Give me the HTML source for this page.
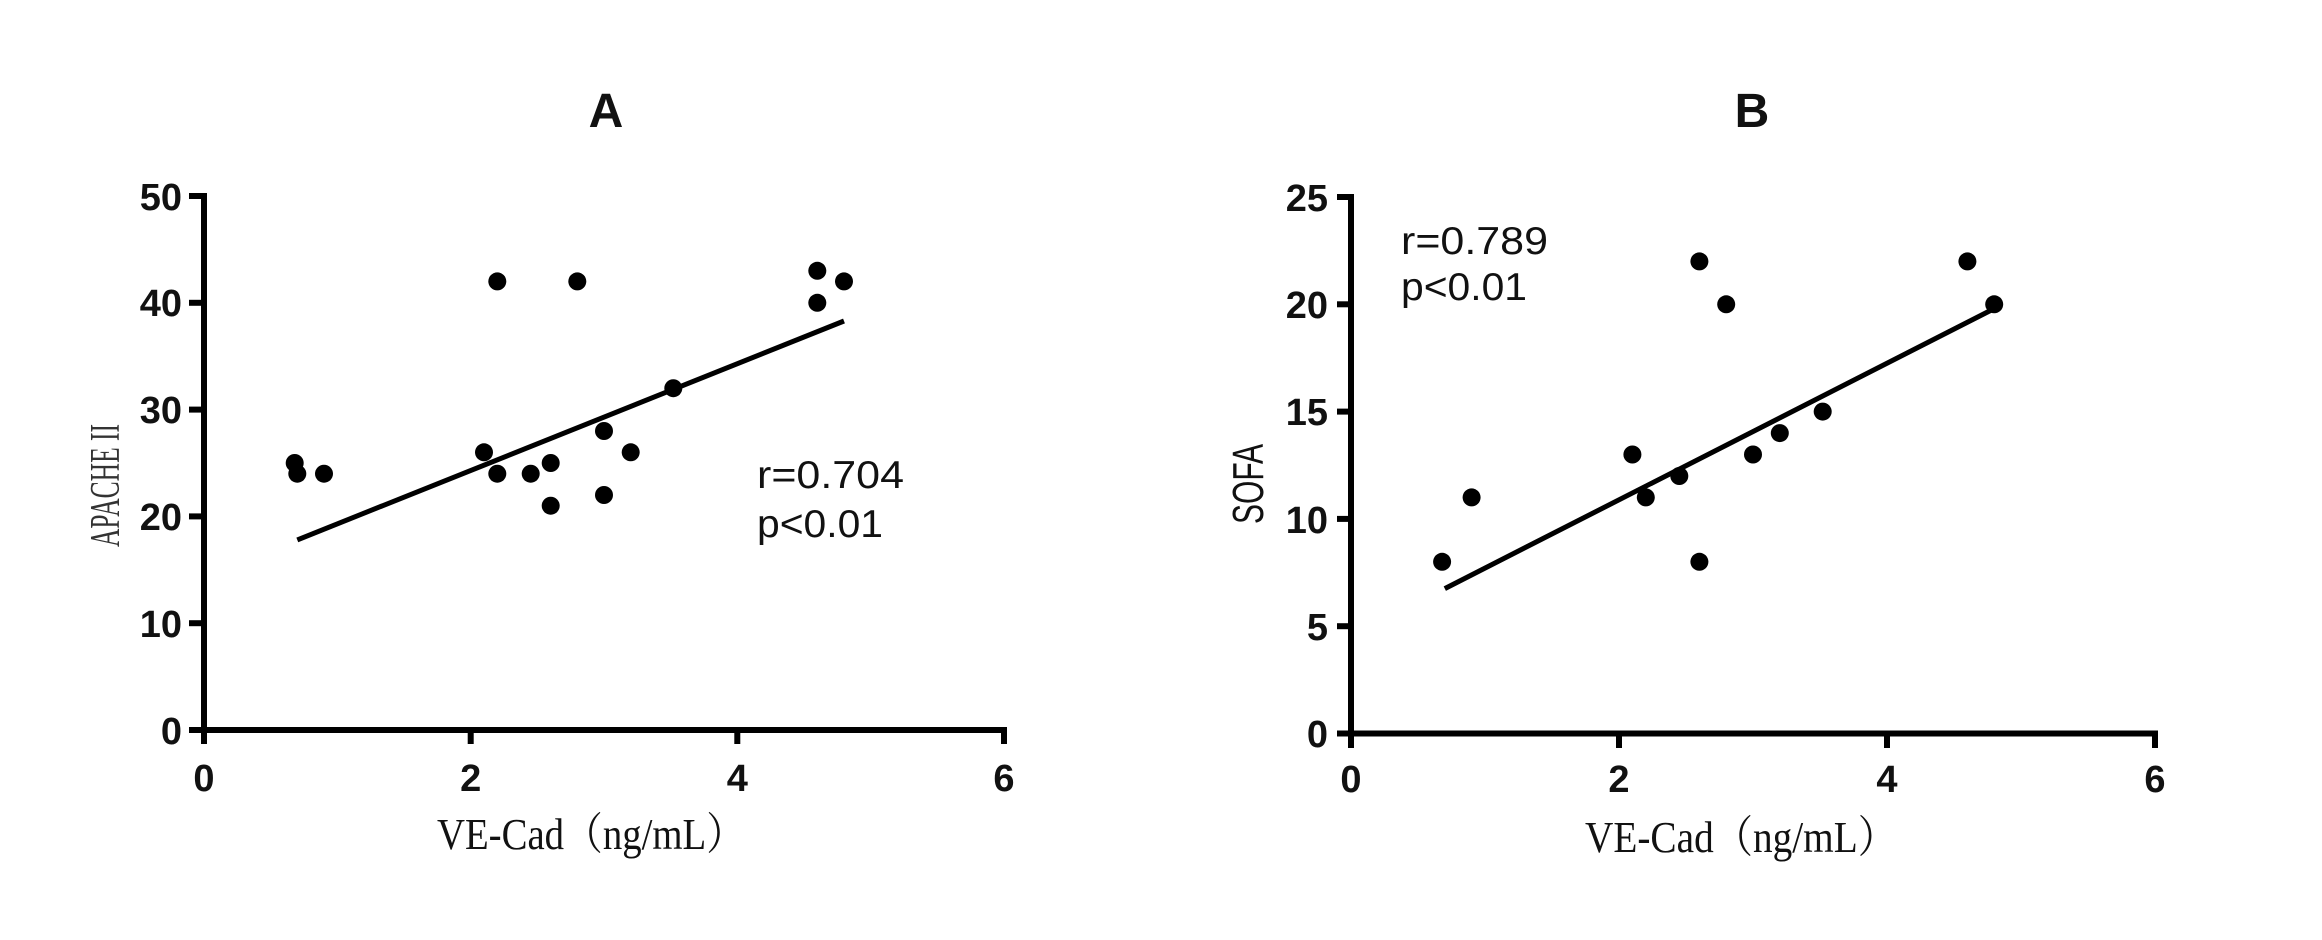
<!DOCTYPE html>
<html>
<head>
<meta charset="utf-8">
<style>
html,body{margin:0;padding:0;background:#fff;}
svg{display:block;}
.tk{font-family:"Liberation Sans",Arial,sans-serif;font-weight:bold;font-size:38px;fill:#111;}
.st{font-family:"Liberation Sans",Arial,sans-serif;font-size:39px;fill:#111;}
.ti{font-family:"Liberation Sans",Arial,sans-serif;font-weight:bold;font-size:48px;fill:#111;}
.xl{font-family:"Liberation Serif","Noto Serif CJK SC",serif;font-size:44px;fill:#111;}
</style>
</head>
<body>
<svg width="2322" height="940" viewBox="0 0 2322 940" xmlns="http://www.w3.org/2000/svg">
<rect width="2322" height="940" fill="#fff"/>

<!-- ================= Panel A ================= -->
<text class="ti" x="606" y="127" text-anchor="middle">A</text>
<g stroke="#000" stroke-width="6" fill="none" stroke-linecap="butt">
  <line x1="204" y1="193" x2="204" y2="733"/>
  <line x1="201" y1="730" x2="1007" y2="730"/>
  <line x1="189" y1="730" x2="204" y2="730"/>
  <line x1="189" y1="623.2" x2="204" y2="623.2"/>
  <line x1="189" y1="516.4" x2="204" y2="516.4"/>
  <line x1="189" y1="409.6" x2="204" y2="409.6"/>
  <line x1="189" y1="302.8" x2="204" y2="302.8"/>
  <line x1="189" y1="196" x2="204" y2="196"/>
  <line x1="204" y1="730" x2="204" y2="744"/>
  <line x1="470.7" y1="730" x2="470.7" y2="744"/>
  <line x1="737.3" y1="730" x2="737.3" y2="744"/>
  <line x1="1004" y1="730" x2="1004" y2="744"/>
</g>
<g class="tk" text-anchor="end">
  <text x="182" y="744">0</text>
  <text x="182" y="637">10</text>
  <text x="182" y="530">20</text>
  <text x="182" y="423">30</text>
  <text x="182" y="316">40</text>
  <text x="182" y="210">50</text>
</g>
<g class="tk" text-anchor="middle">
  <text x="204" y="791">0</text>
  <text x="470.7" y="791">2</text>
  <text x="737.3" y="791">4</text>
  <text x="1004" y="791">6</text>
</g>
<text class="xl" x="437" y="849" textLength="308" lengthAdjust="spacingAndGlyphs">VE-Cad（ng/mL）</text>
<text x="0" y="0" transform="translate(119,547) rotate(-90)" style="font-family:'Liberation Serif','Times New Roman',serif;font-size:42px;fill:#333;" textLength="123" lengthAdjust="spacingAndGlyphs">APACHE II</text>

<line x1="297.3" y1="539.9" x2="844" y2="321" stroke="#000" stroke-width="5"/>
<g fill="#000">
  <circle cx="294.7" cy="463" r="9"/>
  <circle cx="297.3" cy="473.7" r="9"/>
  <circle cx="324" cy="473.7" r="9"/>
  <circle cx="484" cy="452.3" r="9"/>
  <circle cx="497.3" cy="473.7" r="9"/>
  <circle cx="497.3" cy="281.4" r="9"/>
  <circle cx="530.7" cy="473.7" r="9"/>
  <circle cx="550.7" cy="463" r="9"/>
  <circle cx="550.7" cy="505.7" r="9"/>
  <circle cx="577.3" cy="281.4" r="9"/>
  <circle cx="604" cy="431" r="9"/>
  <circle cx="604" cy="495" r="9"/>
  <circle cx="630.7" cy="452.3" r="9"/>
  <circle cx="673.3" cy="388.2" r="9"/>
  <circle cx="817.3" cy="270.8" r="9"/>
  <circle cx="817.3" cy="302.8" r="9"/>
  <circle cx="844" cy="281.4" r="9"/>
</g>
<text class="st" x="757" y="488" textLength="147" lengthAdjust="spacingAndGlyphs">r=0.704</text>
<text class="st" x="757" y="537" textLength="126" lengthAdjust="spacingAndGlyphs">p&lt;0.01</text>

<!-- ================= Panel B ================= -->
<text class="ti" x="1752" y="127" text-anchor="middle">B</text>
<g stroke="#000" stroke-width="6" fill="none" stroke-linecap="butt">
  <line x1="1351" y1="194" x2="1351" y2="736.5"/>
  <line x1="1348" y1="733.5" x2="2158" y2="733.5"/>
  <line x1="1337" y1="733.5" x2="1351" y2="733.5"/>
  <line x1="1337" y1="626.2" x2="1351" y2="626.2"/>
  <line x1="1337" y1="518.9" x2="1351" y2="518.9"/>
  <line x1="1337" y1="411.6" x2="1351" y2="411.6"/>
  <line x1="1337" y1="304.3" x2="1351" y2="304.3"/>
  <line x1="1337" y1="197" x2="1351" y2="197"/>
  <line x1="1351" y1="733.5" x2="1351" y2="748"/>
  <line x1="1619" y1="733.5" x2="1619" y2="748"/>
  <line x1="1887" y1="733.5" x2="1887" y2="748"/>
  <line x1="2155" y1="733.5" x2="2155" y2="748"/>
</g>
<g class="tk" text-anchor="end">
  <text x="1328" y="747">0</text>
  <text x="1328" y="640">5</text>
  <text x="1328" y="533">10</text>
  <text x="1328" y="425">15</text>
  <text x="1328" y="318">20</text>
  <text x="1328" y="211">25</text>
</g>
<g class="tk" text-anchor="middle">
  <text x="1351" y="792">0</text>
  <text x="1619" y="792">2</text>
  <text x="1887" y="792">4</text>
  <text x="2155" y="792">6</text>
</g>
<text class="xl" x="1585" y="852" textLength="312" lengthAdjust="spacingAndGlyphs">VE-Cad（ng/mL）</text>
<text x="0" y="0" transform="translate(1263,524) rotate(-90)" style="font-family:'Liberation Sans',Arial,sans-serif;font-size:44px;fill:#111;" textLength="80" lengthAdjust="spacingAndGlyphs">SOFA</text>

<line x1="1444.8" y1="588.6" x2="1994.2" y2="308.6" stroke="#000" stroke-width="5"/>
<g fill="#000">
  <circle cx="1442.1" cy="561.8" r="9"/>
  <circle cx="1471.6" cy="497.4" r="9"/>
  <circle cx="1632.4" cy="454.5" r="9"/>
  <circle cx="1645.8" cy="497.4" r="9"/>
  <circle cx="1679.3" cy="476" r="9"/>
  <circle cx="1699.4" cy="261.4" r="9"/>
  <circle cx="1699.4" cy="561.8" r="9"/>
  <circle cx="1726.2" cy="304.3" r="9"/>
  <circle cx="1753" cy="454.5" r="9"/>
  <circle cx="1779.8" cy="433.1" r="9"/>
  <circle cx="1822.7" cy="411.6" r="9"/>
  <circle cx="1967.4" cy="261.4" r="9"/>
  <circle cx="1994.2" cy="304.3" r="9"/>
</g>
<text class="st" x="1401" y="254" textLength="147" lengthAdjust="spacingAndGlyphs">r=0.789</text>
<text class="st" x="1401" y="300" textLength="126" lengthAdjust="spacingAndGlyphs">p&lt;0.01</text>
</svg>
</body>
</html>
